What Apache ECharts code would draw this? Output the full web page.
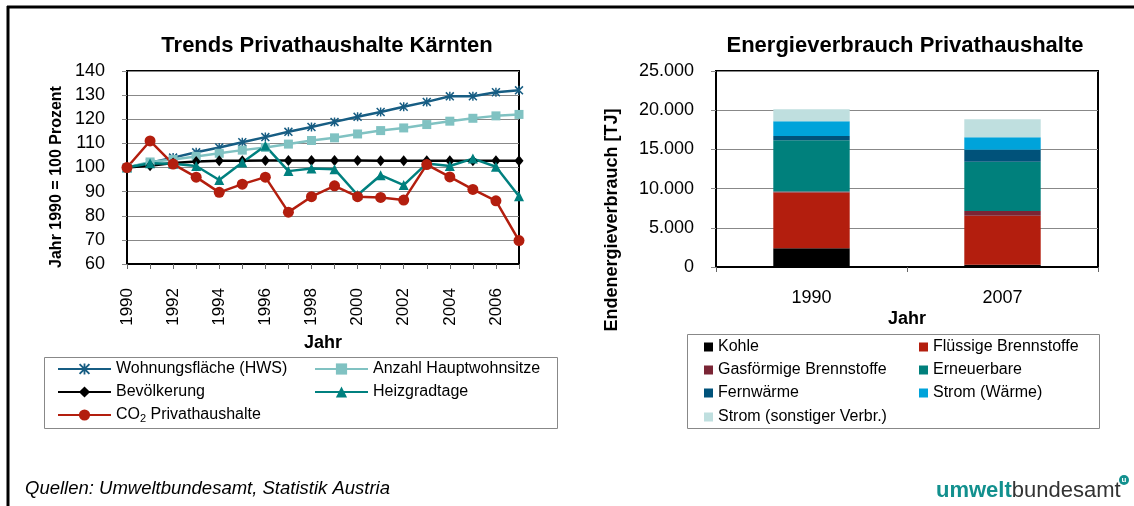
<!DOCTYPE html>
<html lang="de">
<head>
    <meta charset="UTF-8">
    <title>Trends Privathaushalte Kärnten</title>
    <script src="https://cdn.jsdelivr.net/npm/echarts@6/dist/echarts.min.js"></script>
    <style>
        html, body { margin: 0; padding: 0; background: #fff; }
        #main { width: 1134px; height: 506px; }
    </style>
</head>
<body>
    <div id="main"></div>
    <script>
        // left chart: index 1990 = 100
        var years = ['1990', '1991', '1992', '1993', '1994', '1995', '1996', '1997', '1998',
                     '1999', '2000', '2001', '2002', '2003', '2004', '2005', '2006', '2007'];
        var wohnflaeche = [100, 102, 104.1, 106.3, 108.3, 110.5, 112.6, 114.8, 116.8, 118.9, 121, 123, 125.2, 127.2, 129.5, 129.5, 131.2, 132];
        var hauptwohnsitze = [100, 102.3, 103.3, 104.6, 105.9, 107.2, 108.3, 109.7, 111.2, 112.3, 113.9, 115.3, 116.4, 117.8, 119.2, 120.4, 121.4, 122];
        var bevoelkerung = [100, 100.7, 101.9, 102.5, 102.8, 102.8, 102.9, 102.9, 102.9, 102.9, 102.9, 102.8, 102.8, 102.8, 102.8, 102.8, 102.8, 102.8];
        var heizgradtage = [100, 101.8, 101.6, 100.6, 94.8, 102.1, 109, 98.5, 99.6, 99.3, 88.6, 96.8, 92.7, 101.7, 100.6, 103.7, 100.3, 88.1];
        var co2 = [100, 111, 101.4, 96, 89.7, 93.1, 96, 81.5, 87.9, 92.4, 87.9, 87.6, 86.5, 101.2, 96.1, 90.9, 86.2, 69.7];

        // right chart: Endenergieverbrauch [TJ]
        var energyYears = ['1990', '2007'];
        var kohle = [2400, 300];
        var fluessig = [7100, 6250];
        var gas = [120, 600];
        var erneuerbar = [6550, 6270];
        var fernwaerme = [550, 1530];
        var stromWaerme = [1870, 1610];
        var stromSonst = [1530, 2290];

        var lineNames = ['Wohnungsfläche (HWS)', 'Anzahl Hauptwohnsitze', 'Bevölkerung', 'Heizgradtage', 'CO2 Privathaushalte'];
        var barNames = ['Kohle', 'Flüssige Brennstoffe', 'Gasförmige Brennstoffe', 'Erneuerbare',
                        'Fernwärme', 'Strom (Wärme)', 'Strom (sonstiger Verbr.)'];
        var barColors = ['#000000', '#b31e0e', '#7a2535', '#00807c', '#00527a', '#00a3da', '#bfdfdf'];

        var FONT = 'Liberation Sans, Arial, sans-serif';
        var star = 'path://M4.2 0L5.8 0L5.8 10L4.2 10ZM0 1.2L1.2 0L10 8.8L8.8 10ZM8.8 0L10 1.2L1.2 10L0 8.8Z';

        function dots(v) {
            return String(v).replace(/\B(?=(\d{3})+(?!\d))/g, '.');
        }

        var chart = echarts.init(document.getElementById('main'));

        // legend layout, one legend per entry so columns line up
        var legends = [];
        var lineLegendPos = [[57, 361], [314, 361], [57, 384], [314, 384], [57, 407]];
        lineLegendPos.forEach(function (p, i) {
            legends.push({
                data: [lineNames[i]], left: p[0], top: p[1], padding: 0,
                itemWidth: 53, itemHeight: 14, selectedMode: false,
                textStyle: {
                    fontFamily: FONT, fontSize: 16, color: '#000',
                    rich: {
                        n: { fontFamily: FONT, fontSize: 16, color: '#000' },
                        s: { fontFamily: FONT, fontSize: 11, color: '#000', padding: [8, 0, 0, 0] }
                    }
                },
                formatter: function (name) {
                    if (name.indexOf('CO2') === 0) return '{n|CO}{s|2}{n| Privathaushalte}';
                    return name;
                }
            });
        });
        var barLegendPos = [[704, 339], [919, 339], [704, 362], [919, 362], [704, 385], [919, 385], [704, 409]];
        barLegendPos.forEach(function (p, i) {
            legends.push({
                data: [barNames[i]], left: p[0], top: p[1], padding: 0,
                itemWidth: 9, itemHeight: 9, selectedMode: false, icon: 'rect',
                textStyle: { fontFamily: FONT, fontSize: 16, color: '#000' }
            });
        });

        var lineSeries = [
            { name: lineNames[0], data: wohnflaeche, color: '#175d83', symbol: star, symbolSize: 9 },
            { name: lineNames[1], data: hauptwohnsitze, color: '#80c2c2', symbol: 'rect', symbolSize: 9 },
            { name: lineNames[2], data: bevoelkerung, color: '#000000', symbol: 'diamond', symbolSize: [9, 11] },
            { name: lineNames[3], data: heizgradtage, color: '#00807f', symbol: 'triangle', symbolSize: 10 },
            { name: lineNames[4], data: co2, color: '#b31e0e', symbol: 'circle', symbolSize: 11 }
        ].map(function (s) {
            return {
                type: 'line', name: s.name, data: s.data,
                xAxisIndex: 0, yAxisIndex: 0,
                symbol: s.symbol, symbolSize: s.symbolSize, showSymbol: true,
                itemStyle: { color: s.color },
                lineStyle: { color: s.color, width: 2.5 },
                emphasis: { disabled: true }
            };
        });

        var barData = [kohle, fluessig, gas, erneuerbar, fernwaerme, stromWaerme, stromSonst];
        var barSeries = barData.map(function (d, i) {
            return {
                type: 'bar', name: barNames[i], data: d, stack: 'energie',
                xAxisIndex: 1, yAxisIndex: 1, barWidth: '40%',
                itemStyle: { color: barColors[i] },
                emphasis: { disabled: true }
            };
        });

        var axisText = { fontFamily: FONT, fontSize: 18, color: '#000' };
        var nameText = { fontFamily: FONT, fontSize: 18, fontWeight: 'bold', color: '#000' };
        var titleText = { fontFamily: FONT, fontSize: 22, fontWeight: 'bold', color: '#000' };

        chart.setOption({
            animation: false,
            textStyle: { fontFamily: FONT },
            title: [
                { text: 'Trends Privathaushalte Kärnten', left: 322, top: 30, textAlign: 'center', textStyle: titleText },
                { text: 'Energieverbrauch Privathaushalte', left: 900, top: 30, textAlign: 'center', textStyle: titleText }
            ],
            legend: legends,
            grid: [
                { left: 127, right: 615, top: 71, bottom: 242, show: true, borderColor: '#000', borderWidth: 2 },
                { left: 716, right: 36, top: 71, bottom: 239, show: true, borderColor: '#000', borderWidth: 2 }
            ],
            xAxis: [
                {
                    gridIndex: 0, type: 'category', data: years, boundaryGap: false,
                    name: 'Jahr', nameLocation: 'middle', nameGap: 70, nameTextStyle: nameText,
                    axisLine: { lineStyle: { color: '#000', width: 2 } },
                    axisTick: { show: true, length: 5, interval: 0, lineStyle: { color: '#666' } },
                    axisLabel: Object.assign({}, axisText, { rotate: 90, interval: 1, margin: 24, fontSize: 17 }),
                    splitLine: { show: false }
                },
                {
                    gridIndex: 1, type: 'category', data: energyYears,
                    name: 'Jahr', nameLocation: 'middle', nameGap: 43, nameTextStyle: nameText,
                    axisLine: { lineStyle: { color: '#000', width: 2 } },
                    axisTick: { show: true, length: 5, lineStyle: { color: '#666' } },
                    axisLabel: Object.assign({ margin: 22 }, axisText),
                    splitLine: { show: false }
                }
            ],
            yAxis: [
                {
                    gridIndex: 0, type: 'value', min: 60, max: 140, interval: 10,
                    axisLine: { show: true, lineStyle: { color: '#000', width: 2 } },
                    axisTick: { show: true, length: 5, lineStyle: { color: '#888' } },
                    axisLabel: Object.assign({ margin: 22 }, axisText),
                    splitLine: { lineStyle: { color: '#888', width: 1 } }
                },
                {
                    gridIndex: 1, type: 'value', min: 0, max: 25000, interval: 5000,
                    axisLine: { show: true, lineStyle: { color: '#000', width: 2 } },
                    axisTick: { show: true, length: 5, lineStyle: { color: '#888' } },
                    axisLabel: Object.assign({ margin: 22, formatter: dots }, axisText),
                    splitLine: { lineStyle: { color: '#888', width: 1 } }
                }
            ],
            series: lineSeries.concat(barSeries),
            graphic: [
                // outer frame (top + left edge)
                { type: 'line', shape: { x1: 7, y1: 7, x2: 1134, y2: 7 }, style: { stroke: '#000', lineWidth: 3 } },
                { type: 'line', shape: { x1: 8, y1: 6, x2: 8, y2: 506 }, style: { stroke: '#000', lineWidth: 3 } },
                // legend boxes
                { type: 'rect', shape: { x: 44.5, y: 357.5, width: 513, height: 71 },
                  style: { fill: 'none', stroke: '#888', lineWidth: 1 }, z: -1 },
                { type: 'rect', shape: { x: 687.5, y: 334.5, width: 412, height: 94 },
                  style: { fill: 'none', stroke: '#888', lineWidth: 1 }, z: -1 },
                // y axis names
                { type: 'text', x: 57, y: 177, rotation: Math.PI / 2,
                  style: { text: 'Jahr 1990 = 100 Prozent', fontFamily: FONT, fontSize: 16, fontWeight: 'bold',
                           fill: '#000', textAlign: 'center', textVerticalAlign: 'middle' } },
                { type: 'text', x: 612, y: 220, rotation: Math.PI / 2,
                  style: { text: 'Endenergieverbrauch [TJ]', fontFamily: FONT, fontSize: 18, fontWeight: 'bold',
                           fill: '#000', textAlign: 'center', textVerticalAlign: 'middle' } },
                // footer
                { type: 'text', x: 25, y: 489,
                  style: { text: 'Quellen: Umweltbundesamt, Statistik Austria', fontFamily: FONT, fontSize: 18.5,
                           fontStyle: 'italic', fill: '#000', textVerticalAlign: 'middle' } },
                { type: 'text', x: 936, y: 491,
                  style: { text: '{a|umwelt}{b|bundesamt}', textVerticalAlign: 'middle',
                           rich: {
                               a: { fontFamily: FONT, fontSize: 22, fontWeight: 'bold', fill: '#12908e' },
                               b: { fontFamily: FONT, fontSize: 22, fill: '#333' }
                           } } },
                { type: 'circle', shape: { cx: 1124, cy: 480, r: 5 }, style: { fill: '#12908e' } },
                { type: 'text', x: 1124, y: 480,
                  style: { text: 'u', fontFamily: FONT, fontSize: 8, fontWeight: 'bold', fill: '#fff',
                           textAlign: 'center', textVerticalAlign: 'middle' } }
            ]
        });
    </script>
</body>
</html>
